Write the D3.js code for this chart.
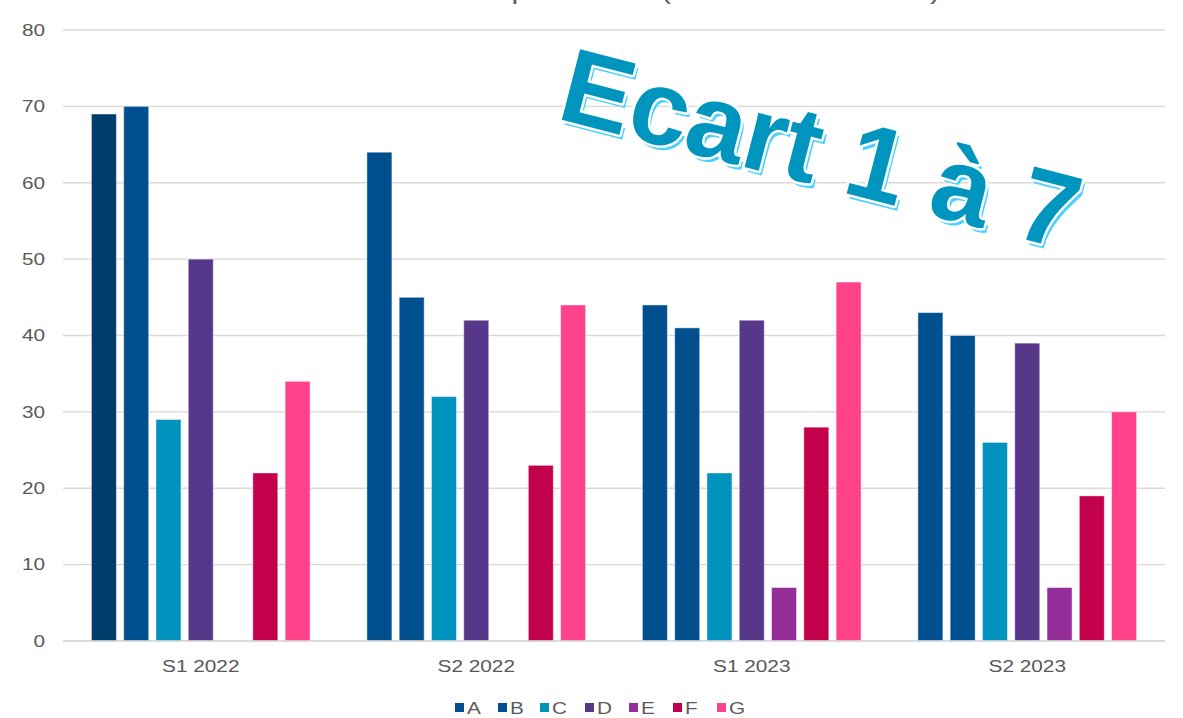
<!DOCTYPE html>
<html>
<head>
<meta charset="utf-8">
<script src="https://cdn.jsdelivr.net/npm/d3@7"></script>
<style>
  body { margin: 0; background: #fff; }
  text { font-family: "Liberation Sans", Arial, sans-serif; }
</style>
</head>
<body>
<svg id="chart" width="1183" height="718"></svg>
<script>
// periods and series
var periods = ["S1 2022", "S2 2022", "S1 2023", "S2 2023"];
var series = ["A", "B", "C", "D", "E", "F", "G"];
var colors = ["#00508F", "#00508F", "#0093BD", "#57378A", "#952E98", "#C3004B", "#FF428A"];

// values per series, one per period (null = no bar)
var valA = [69, 64, 44, 43];
var valB = [70, 45, 41, 40];
var valC = [29, 32, 22, 26];
var valD = [50, 42, 42, 39];
var valE = [null, null, 7, 7];
var valF = [22, 23, 28, 19];
var valG = [34, 44, 47, 30];
var yTicks = [0, 10, 20, 30, 40, 50, 60, 70, 80];

var allVals = [valA, valB, valC, valD, valE, valF, valG];

// the source picture is a bit stretched sideways
var sx = 1.26;

var svg = d3.select("#chart");

var x = d3.scaleBand().domain(periods).range([63, 1165]);
var xs = d3.scaleBand().domain(series).range([0, x.bandwidth()])
  .paddingInner(0.226).paddingOuter(0.88);
var y = d3.scaleLinear().domain([0, 80]).range([641, 30]);

// gridlines
svg.append("g").selectAll("line")
  .data(yTicks)
  .enter().append("line")
  .attr("x1", 63).attr("x2", 1165)
  .attr("y1", function(d) { return y(d); })
  .attr("y2", function(d) { return y(d); })
  .attr("stroke", "#d9d9d9")
  .attr("stroke-width", 1.3);

// y axis labels
var yAxis = svg.append("g")
  .attr("transform", "translate(45,0)")
  .call(d3.axisLeft(y).tickValues(yTicks).tickSize(0).tickPadding(0));
yAxis.select(".domain").remove();
yAxis.selectAll("text")
  .attr("font-size", "16.5px")
  .attr("fill", "#595959")
  .attr("transform", "scale(" + sx + ",1)")
  .style("font-family", "'Liberation Sans', Arial, sans-serif");

// title (cut by top edge, as in the source)
svg.append("text")
  .attr("transform", "translate(940,-1) scale(" + sx + ",1)")
  .attr("text-anchor", "end")
  .attr("font-size", "24px")
  .attr("fill", "#595959")
  .text("Écart par niveau (S1 2022 – S2 2023)");

// bars
var rows = [];
periods.forEach(function(p, i) {
  series.forEach(function(s, j) {
    var v = allVals[j][i];
    if (v != null) rows.push({ period: p, serie: s, value: v, color: colors[j] });
  });
});
// first A bar is a darker point override
rows[0].color = "#003D6B";

svg.append("g").selectAll("rect")
  .data(rows)
  .enter().append("rect")
  .attr("x", function(d) { return x(d.period) + xs(d.serie); })
  .attr("y", function(d) { return y(d.value); })
  .attr("width", xs.bandwidth())
  .attr("height", function(d) { return y(0) - y(d.value); })
  .attr("fill", function(d) { return d.color; })
  .attr("stroke", "rgba(255,255,255,0.45)")
  .attr("stroke-width", 1);

// baseline
svg.append("line")
  .attr("x1", 63).attr("x2", 1165)
  .attr("y1", y(0)).attr("y2", y(0))
  .attr("stroke", "#d9d9d9").attr("stroke-width", 1.3);

// x axis labels
svg.append("g").selectAll("text")
  .data(periods)
  .enter().append("text")
  .attr("transform", function(d) {
    return "translate(" + (x(d) + x.bandwidth() / 2) + ",672) scale(" + sx + ",1)";
  })
  .attr("text-anchor", "middle")
  .attr("font-size", "16.5px")
  .attr("fill", "#595959")
  .text(function(d) { return d; });

// legend
var legX = [455, 498, 540, 585, 629, 673, 717];
var leg = svg.append("g").selectAll("g")
  .data(series)
  .enter().append("g")
  .attr("transform", function(d, i) { return "translate(" + legX[i] + ",703)"; });
leg.append("rect")
  .attr("width", 9).attr("height", 9)
  .attr("fill", function(d, i) { return colors[i]; });
leg.append("text")
  .attr("transform", "translate(12,11) scale(" + sx + ",1)")
  .attr("font-size", "16.5px")
  .attr("fill", "#595959")
  .text(function(d) { return d; });

// annotation
var note = svg.append("g")
  .attr("transform", "translate(555,118) rotate(14.5)");
note.append("text")
  .attr("x", 4).attr("y", 4)
  .attr("font-size", "106px")
  .attr("font-weight", "bold")
  .attr("fill", "#45D2FF")
  .text("Ecart 1 à 7");
note.append("text")
  .attr("font-size", "106px")
  .attr("font-weight", "bold")
  .attr("fill", "#0095BE")
  .attr("stroke", "#ffffff")
  .attr("stroke-width", 5)
  .attr("stroke-linejoin", "round")
  .style("paint-order", "stroke")
  .text("Ecart 1 à 7");
</script>
</body>
</html>
